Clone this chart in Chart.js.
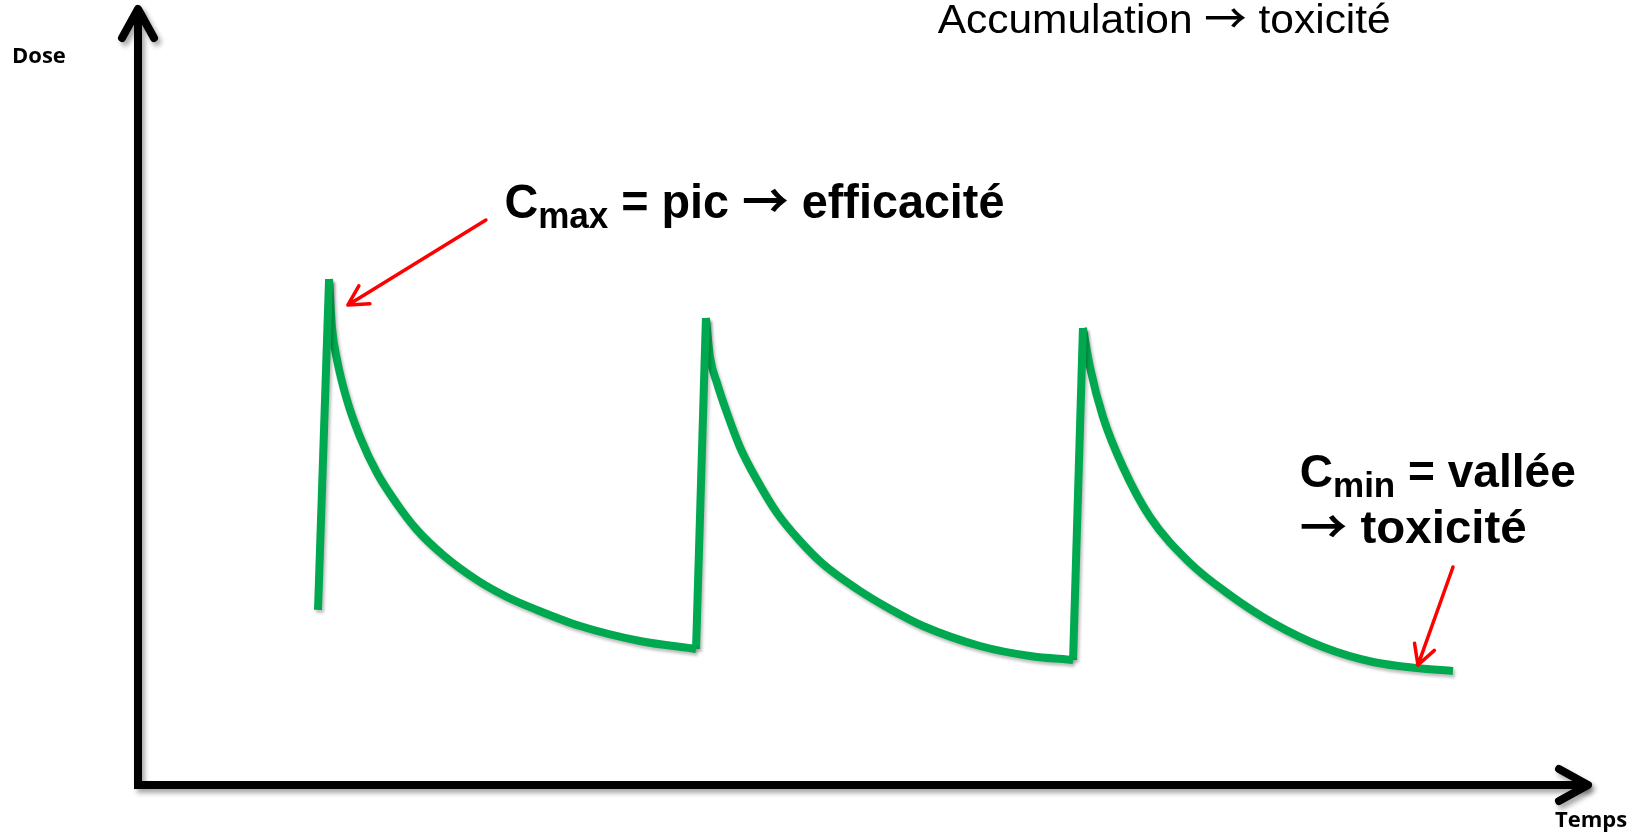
<!DOCTYPE html>
<html>
<head>
<meta charset="utf-8">
<script src="https://cdn.jsdelivr.net/npm/chart.js@4.4.1/dist/chart.umd.min.js"></script>
<style>
  html, body { margin: 0; padding: 0; background: #fff; }
  #wrap { width: 1640px; height: 834px; position: relative; }
</style>
</head>
<body>
<div id="wrap"><canvas id="doseChart"></canvas></div>
<script>
// Dose curve: intake, peak (Cmax), decay to trough (Cmin), three times
const curveTime = [
  12.38, 13.14, 13.34, 13.69, 14.37, 15.27, 16.44, 17.81, 19.19, 20.98, 23.31, 25.38, 27.44, 30.40, 34.52, 38.38,
  39.06, 39.34, 39.82, 40.51, 41.40, 42.57, 43.95, 45.53, 47.11, 49.45, 51.72, 53.99, 57.91, 61.35, 64.31,
  64.99, 65.47, 66.37, 67.74, 69.60, 72.35, 74.90, 78.06, 81.50, 84.94, 87.96, 90.44
];
const curveDose = [
  22.44, 64.87, 58.72, 54.49, 49.36, 44.62, 40.00, 36.03, 32.69, 29.49, 26.28, 24.10, 22.44, 20.38, 18.46, 17.44,
  59.87, 54.87, 51.54, 47.69, 43.33, 39.10, 34.87, 31.28, 28.33, 25.13, 22.56, 20.38, 17.82, 16.54, 16.03,
  58.59, 53.59, 47.18, 40.77, 34.36, 28.46, 24.62, 20.77, 17.69, 15.77, 15.00, 14.62
];
// position of each peak in the arrays above
const peakIndex = [1, 16, 31];

const timeRange = [0, 100];
const doseRange = [0, 100];

const axisTitleX = 'Temps';
const axisTitleY = 'Dose';
const headline = 'Accumulation \u2192 toxicit\u00e9';

// annotations, anchored in data units
const cmaxNote = { t: 25.2, d: 72.7, sub: 'max', rest: ' = pic \u2192 efficacit\u00e9', width: 500 };
const cminNote = { t: 79.9, d: 38.2, sub: 'min', rest: ' = vall\u00e9e', width: 276 };
const cminLine2 = { t: 79.9, d: 31.0, text: '\u2192 toxicit\u00e9', width: 227 };
const headNote = { t: 55.0, d: 96.4, width: 453 };
const cmaxPointer = { from: [23.93, 72.44], to: [14.44, 61.54] };
const cminPointer = { from: [90.44, 27.95], to: [88.03, 15.38] };

const GREEN = '#00A94F';
const RED = '#FF0000';
const SANS = '"Liberation Sans", Arial, sans-serif';
const ARROW = '"Noto Sans CJK JP", "DejaVu Sans", sans-serif';

function redArrow(ctx, x1, y1, x2, y2) {
  const ang = Math.atan2(y2 - y1, x2 - x1);
  const len = 22, spread = 0.5;
  ctx.save();
  ctx.strokeStyle = RED;
  ctx.lineWidth = 3.5;
  ctx.lineCap = 'round';
  ctx.lineJoin = 'round';
  ctx.beginPath();
  ctx.moveTo(x1, y1);
  ctx.lineTo(x2, y2);
  ctx.moveTo(x2 - len * Math.cos(ang - spread), y2 - len * Math.sin(ang - spread));
  ctx.lineTo(x2, y2);
  ctx.lineTo(x2 - len * Math.cos(ang + spread), y2 - len * Math.sin(ang + spread));
  ctx.stroke();
  ctx.restore();
}

// split a string so the arrow sign gets a font with a heavy arrow glyph
function pieces(str, font, arrowFont) {
  const out = [];
  str.split('\u2192').forEach((s, i) => {
    if (i > 0) out.push({ text: '\u2192', font: arrowFont, dy: 0 });
    if (s) out.push({ text: s, font: font, dy: 0 });
  });
  return out;
}

// draw text runs in a row, squeezed to the wanted width
function drawRow(ctx, parts, x, y, width) {
  let total = 0;
  parts.forEach(p => { ctx.font = p.font; p.w = ctx.measureText(p.text).width; total += p.w; });
  const s = width ? width / total : 1;
  ctx.save();
  ctx.translate(x, y);
  ctx.scale(s, 1);
  let cx = 0;
  parts.forEach(p => { ctx.font = p.font; ctx.fillText(p.text, cx, p.dy); cx += p.w; });
  ctx.restore();
}

function subParts(size, sub, rest) {
  const main = 'bold ' + size + 'px ' + SANS;
  return [
    { text: 'C', font: main, dy: 0 },
    { text: sub, font: 'bold ' + Math.round(size * 0.75) + 'px ' + SANS, dy: 10 }
  ].concat(pieces(rest, main, 'bold ' + size + 'px ' + ARROW));
}

const diagramPlugin = {
  id: 'diagram',
  beforeDatasetsDraw(chart) {
    const { ctx, chartArea: a, scales } = chart;
    const x0 = scales.x.getPixelForValue(timeRange[0]);
    const y0 = scales.y.getPixelForValue(doseRange[0]);
    ctx.save();
    ctx.shadowColor = 'rgba(0,0,0,0.35)';
    ctx.shadowBlur = 5;
    ctx.shadowOffsetX = 3;
    ctx.shadowOffsetY = 4;
    ctx.strokeStyle = '#000';
    ctx.lineWidth = 8;
    ctx.lineJoin = 'miter';
    ctx.beginPath();
    ctx.moveTo(x0, a.top + 4);
    ctx.lineTo(x0, y0);
    ctx.lineTo(a.right - 4, y0);
    ctx.stroke();
    ctx.lineCap = 'round';
    ctx.lineJoin = 'round';
    ctx.beginPath();
    ctx.moveTo(x0 - 16, a.top + 33);
    ctx.lineTo(x0, a.top + 4);
    ctx.lineTo(x0 + 16, a.top + 33);
    ctx.moveTo(a.right - 33, y0 - 16);
    ctx.lineTo(a.right - 4, y0);
    ctx.lineTo(a.right - 33, y0 + 16);
    ctx.stroke();
    ctx.restore();

    // soft shadow under the green curve
    ctx.save();
    ctx.shadowColor = 'rgba(0,0,0,0.25)';
    ctx.shadowBlur = 3;
    ctx.shadowOffsetX = 2;
    ctx.shadowOffsetY = 3;
  },
  afterDatasetsDraw(chart) {
    const { ctx, scales } = chart;
    ctx.restore();
    const px = t => scales.x.getPixelForValue(t);
    const py = d => scales.y.getPixelForValue(d);

    ctx.save();
    ctx.fillStyle = '#000';
    ctx.textBaseline = 'alphabetic';

    ctx.font = 'bold 22px "Open Sans", sans-serif';
    ctx.fillText(axisTitleY, 12, 63);
    ctx.fillText(axisTitleX, 1555, 827);

    drawRow(ctx, pieces(headline, '40px ' + SANS, '500 40px ' + ARROW), px(headNote.t), py(headNote.d), headNote.width);
    drawRow(ctx, subParts(48, cmaxNote.sub, cmaxNote.rest), px(cmaxNote.t), py(cmaxNote.d), cmaxNote.width);
    drawRow(ctx, subParts(46, cminNote.sub, cminNote.rest), px(cminNote.t), py(cminNote.d), cminNote.width);
    drawRow(ctx, pieces(cminLine2.text, 'bold 46px ' + SANS, 'bold 46px ' + ARROW), px(cminLine2.t), py(cminLine2.d), cminLine2.width);
    ctx.restore();

    redArrow(ctx, px(cmaxPointer.from[0]), py(cmaxPointer.from[1]), px(cmaxPointer.to[0]), py(cmaxPointer.to[1]));
    redArrow(ctx, px(cminPointer.from[0]), py(cminPointer.from[1]), px(cminPointer.to[0]), py(cminPointer.to[1]));
  }
};

const points = curveTime.map((t, i) => ({ x: t, y: curveDose[i] }));

// straight rise at each intake, smooth decay after each peak
const datasets = [];
peakIndex.forEach((p, k) => {
  const end = k + 1 < peakIndex.length ? peakIndex[k + 1] - 1 : points.length - 1;
  datasets.push({ label: 'prise ' + (k + 1), data: points.slice(p - 1, p + 1), tension: 0 });
  datasets.push({ label: 'elimination ' + (k + 1), data: points.slice(p, end + 1), cubicInterpolationMode: 'monotone' });
});
datasets.forEach(ds => Object.assign(ds, {
  borderColor: GREEN,
  borderWidth: 8,
  borderCapStyle: 'butt',
  borderJoinStyle: 'round',
  pointRadius: 0,
  fill: false
}));

new Chart(document.getElementById('doseChart'), {
  type: 'line',
  data: { datasets: datasets },
  options: {
    responsive: true,
    maintainAspectRatio: false,
    animation: false,
    layout: { padding: { left: 138, right: 48, top: 5, bottom: 49 } },
    plugins: { legend: { display: false }, tooltip: { enabled: false } },
    scales: {
      x: { type: 'linear', min: timeRange[0], max: timeRange[1], display: false },
      y: { type: 'linear', min: doseRange[0], max: doseRange[1], display: false }
    }
  },
  plugins: [diagramPlugin]
});
</script>
</body>
</html>
